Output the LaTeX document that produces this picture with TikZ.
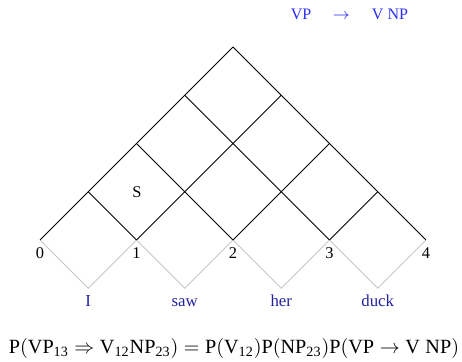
\documentclass[tikz,border=0pt]{standalone}
\usepackage{fontspec}
\setmainfont{Liberation Serif}
\definecolor{topblue}{RGB}{45,45,250}
\definecolor{wordblue}{RGB}{35,35,160}
\tikzset{
  chart/.style={draw=black,line width=0.5pt},
  leaf/.style={draw=black!22,line width=0.5pt},
  numlbl/.style={font=\fontsize{8.2}{9}\selectfont,anchor=base,inner sep=0pt},
  wordlbl/.style={font=\fontsize{8.4}{9}\selectfont,text=wordblue,anchor=base,inner sep=0pt},
  rulelbl/.style={font=\fontsize{8}{9}\selectfont,text=topblue,anchor=base,inner sep=0pt},
  catlbl/.style={font=\fontsize{8.2}{9}\selectfont,anchor=base,inner sep=0pt},
}
\begin{document}
\begin{tikzpicture}[x=0.5pt,y=-0.5pt]
\useasboundingbox (0,0) rectangle (462,362);
% chart points
\foreach \i in {0,...,4} {
  \coordinate (p\i) at ({40+96.5*\i},240);
}
% leaf gray diamonds
\foreach \i/\j in {0/1,1/2,2/3,3/4} {
  \coordinate (b\i) at ({40+96.5*\i+48.25},288.25);
  \draw[leaf] (p\i) -- (b\i) -- (p\j);
}
% up-right lines
\foreach \i in {0,...,3} {
  \coordinate (r\i) at ({40+96.5*\i + (426-40-96.5*\i)/2},{240-(426-40-96.5*\i)/2});
  \draw[chart] (p\i) -- (r\i);
}
% up-left lines
\foreach \i in {1,...,4} {
  \coordinate (l\i) at ({40+96.5*\i - (96.5*\i)/2},{240-(96.5*\i)/2});
  \draw[chart] (p\i) -- (l\i);
}
% numbers
\foreach \i in {0,...,4} {
  \node[numlbl] (n\i) at ({40+96.5*\i},259) {\i};
}
% words
\node[wordlbl] (w1) at (88.25,307) {I};
\node[wordlbl] (w2) at (184.75,307) {saw};
\node[wordlbl] (w3) at (281.25,307) {her};
\node[wordlbl] (w4) at (377.75,307) {duck};
% cell label
\node[catlbl] (S) at (137,198) {S};
% rule
\node[rulelbl] (rvp) at (301,19.5) {VP};
\node[rulelbl] (rarr) at (341.5,19.5) {$\rightarrow$};
\node[rulelbl] (rrhs) at (390,19.5) {V NP};
% formula
\node[font=\fontsize{10.1}{12}\selectfont,anchor=base,inner sep=0pt] (formula) at (234,354)
  {$\mathrm{P}(\mathrm{VP}_{\mathrm{13}} \Rightarrow \mathrm{V}_{\mathrm{12}}\mathrm{NP}_{\mathrm{23}}) = \mathrm{P}(\mathrm{V}_{\mathrm{12}})\mathrm{P}(\mathrm{NP}_{\mathrm{23}})\mathrm{P}(\mathrm{VP} \rightarrow \mathrm{V\;NP})$};
\end{tikzpicture}
\end{document}
